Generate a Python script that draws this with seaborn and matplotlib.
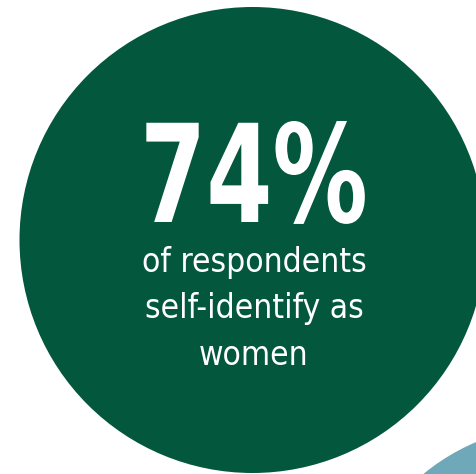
import matplotlib
matplotlib.use("Agg")
import matplotlib.pyplot as plt
import seaborn as sns
from matplotlib.patches import Circle
from matplotlib.patheffects import AbstractPathEffect
from matplotlib.transforms import Affine2D

# ---- data ----
percent_value = [74]
caption_lines = ["of respondents", "self-identify as", "women"]
main_color = "#03573D"
accent_color = "#6FA8B9"

sns.set_theme(style="white")
plt.rcParams["font.family"] = ["DejaVu Sans"]


class Squeeze(AbstractPathEffect):
    """Scale glyph outlines about the text anchor (tall condensed look)."""

    def __init__(self, text_artist, sx=1.0, sy=1.0):
        super().__init__()
        self.t = text_artist
        self.sx = sx
        self.sy = sy

    def draw_path(self, renderer, gc, tpath, affine, rgbFace=None):
        cx, cy = self.t.get_transform().transform(self.t.get_position())
        tr = affine + Affine2D().translate(-cx, -cy).scale(self.sx, self.sy).translate(cx, cy)
        renderer.draw_path(gc, tpath, tr, rgbFace)


W, H = 476, 474
fig = plt.figure(figsize=(W / 100, H / 100), dpi=100)
ax = fig.add_axes([0, 0, 1, 1])
ax.set_xlim(0, W)
ax.set_ylim(H, 0)
ax.set_aspect("equal")
ax.axis("off")

ax.add_patch(Circle((252.5, 240), 233, color=main_color, lw=0))
ax.add_patch(Circle((560, 640), 215, color=accent_color, lw=0))

head_size = 55
head = ax.text(254, 222, f"{percent_value[0]}%", color="white", fontsize=head_size,
               fontweight="bold", fontstretch="condensed", ha="center", va="baseline")

baselines = [272, 318, 365]
for line, y in zip(caption_lines, baselines):
    ax.text(254, y, line, color="white", fontsize=24, fontstretch="condensed",
            ha="center", va="baseline")

fig.canvas.draw()
natural_w = head.get_window_extent().width
head.set_path_effects([Squeeze(head, sx=228.0 / natural_w, sy=98.0 / head_size)])

fig.savefig("out.png", dpi=100)
